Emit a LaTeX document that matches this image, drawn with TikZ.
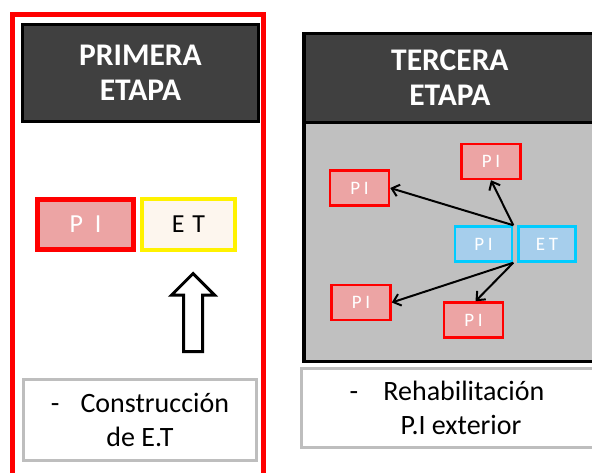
\documentclass[tikz,border=0pt]{standalone}
\usepackage{fontspec}
\setmainfont{Carlito}
\definecolor{headgray}{RGB}{64,64,64}
\definecolor{panelgray}{RGB}{192,192,192}
\definecolor{linegray}{RGB}{190,190,190}
\definecolor{pinkfill}{RGB}{236,164,164}
\definecolor{creamfill}{RGB}{253,246,238}
\definecolor{bluefill}{RGB}{166,206,236}
\definecolor{cyanline}{RGB}{0,204,255}
\usetikzlibrary{arrows.meta,positioning,shapes.arrows}

\begin{document}
\begin{tikzpicture}[x=1pt,y=-1pt,
    header/.style={draw=black, line width=3pt, fill=headgray, text=white,
      align=center, inner sep=0pt, font=\fontsize{31.5}{35}\selectfont\bfseries},
    notebox/.style={draw=linegray, line width=3pt, fill=white, align=center,
      inner sep=0pt, font=\fontsize{28}{34}\selectfont},
    pibox/.style={draw=red, line width=2.5pt, fill=pinkfill, text=white,
      minimum width=59pt, minimum height=35pt, inner sep=0pt,
      font=\fontsize{19}{19}\selectfont},
    etbox/.style={pibox, draw=cyanline, fill=bluefill},
    spread/.style={line width=2pt, -{Straight Barb[length=7pt,width=12pt]}}]
  \useasboundingbox (0,0) rectangle (592,473);

  % primera etapa
  \node[draw=red, line width=5pt, minimum width=251pt, minimum height=462pt,
        inner sep=0pt] (stageone) at (138,245.5) {};
  \node[header, minimum width=236pt, minimum height=97pt] (headone) at (140.5,73) {PRIMERA\\ETAPA};
  \node[draw=red, line width=4.5pt, fill=pinkfill, text=white, minimum width=96pt,
        minimum height=50pt, inner sep=0pt, font=\fontsize{26}{26}\selectfont]
        (pione) at (85.5,224.5) {P\hspace{0.45em}I};
  \node[draw=yellow, line width=4pt, fill=creamfill, minimum width=93pt,
        minimum height=51pt, inner sep=0pt, font=\fontsize{26}{26}\selectfont]
        (etone) at (188.5,224.5) {E\hspace{0.3em}T};
  \node[single arrow, draw=black, line width=3pt, fill=white, rotate=90, anchor=tip,
        inner sep=8pt, single arrow head extend=12pt, minimum height=78pt]
        (build) at (193,271.5) {};
  \node[notebox, minimum width=233pt, minimum height=81pt] (noteone) at (140,420)
        {-\hspace{0.75em}Construcción\\de E.T};

  % tercera etapa
  \node[draw=black, line width=3.5pt, fill=panelgray, minimum width=292pt,
        minimum height=327.5pt, inner sep=0pt] (stagethree) at (449.9,197.5) {};
  \node[header, line width=3.5pt, minimum width=292pt, minimum height=88.75pt]
        (headthree) at (449.9,78.1) {TERCERA\\ETAPA};
  \node[pibox] (pitop) at (491,161.5) {P\hspace{0.2em}I};
  \node[pibox] (pileft) at (359.5,188) {P\hspace{0.2em}I};
  \node[pibox] (pilow) at (361,302.5) {P\hspace{0.2em}I};
  \node[pibox] (pibottom) at (473.5,320) {P\hspace{0.2em}I};
  \node[etbox, minimum width=57pt] (pimid) at (483.5,244) {P\hspace{0.2em}I};
  \node[etbox, minimum width=57pt] (etmid) at (547,244) {E\hspace{0.2em}T};
  \draw[spread] (pimid.north east) -- (pileft.east);
  \draw[spread] (pimid.north east) -- (pitop.south);
  \draw[spread] (pimid.south east) -- (pilow.east);
  \draw[spread] (pimid.south east) -- ([xshift=2pt]pibottom.north);
  \node[notebox, minimum width=292pt, minimum height=79pt] (notethree) at (447,408)
        {-\hspace{0.9em}Rehabilitación\\\hspace{28pt}P.I exterior};
\end{tikzpicture}
\end{document}
